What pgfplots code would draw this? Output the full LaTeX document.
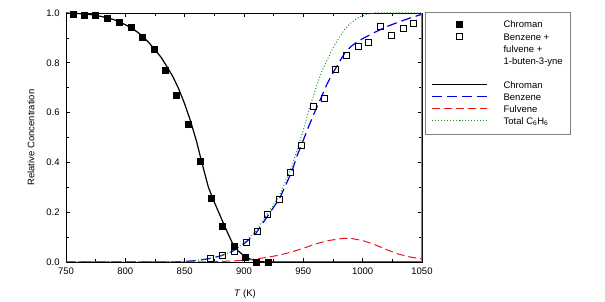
\documentclass[border=0pt]{standalone}
\usepackage{pgfplots}
\pgfplotsset{compat=1.18}
\usepackage{fontspec}
\setmainfont{Liberation Sans}
\definecolor{cblue}{RGB}{0,0,230}
\definecolor{cred}{RGB}{235,20,30}
\definecolor{cgreen}{RGB}{40,150,40}
\begin{document}
\fontsize{9.5}{11.5}\selectfont
\begin{tikzpicture}
\useasboundingbox (-66pt,-40pt) rectangle (539pt,262pt);
\begin{axis}[
  at={(0,0)}, anchor=south west,
  width=356pt, height=249pt, scale only axis,
  xmin=750, xmax=1050, ymin=0, ymax=1,
  xtick={750,800,...,1050}, minor x tick num=1,
  ytick={0,0.2,0.4,0.6,0.8,1.0}, minor y tick num=1,
  major tick length=4pt, minor tick length=3pt,
  tick style={black, line width=0.6pt},
  axis line style={line width=0.8pt},
  /pgf/number format/assume math mode=true,
  yticklabel style={xshift=-3pt, /pgf/number format/.cd, fixed, fixed zerofill, precision=1},
  xticklabel style={yshift=-3pt, /pgf/number format/1000 sep={}},
  xlabel={\textit{T} (K)},
  ylabel={Relative Concentration},
  xlabel style={at={(axis description cs:0.503,-0.1285)}, anchor=center},
  ylabel style={at={(axis description cs:-0.0983,0.5)}, anchor=center},
  legend style={at={(1,1)}, anchor=north west, xshift=3pt, yshift=1pt,
    draw=gray, line width=0.8pt, fill=white, font=\fontsize{9.5}{12}\selectfont,
    cells={anchor=base west, inner ysep=1.5pt, text height=6.6pt, text depth=2.4pt},
    row sep=0pt, column sep=14pt,
    inner xsep=6pt, inner ysep=7pt},
  legend image code/.code={\draw[mark repeat=2,mark phase=2,#1] plot coordinates {(0pt,3.3pt) (27.5pt,3.3pt) (55pt,3.3pt)};},
]
\addplot[only marks, mark=square*, mark size=3pt, black] coordinates {
(756,0.997) (765,0.992) (775,0.991) (785,0.979) (795,0.964) (805,0.942)
(814,0.903) (824,0.854) (834,0.771) (843,0.668) (853,0.553) (863,0.405)
(872,0.256) (882,0.145) (892,0.064) (901,0.021) (910,0.001) (920,0.000)};
\addlegendentry{Chroman}
\addplot[only marks, mark=square, mark size=3pt, black, mark options={line width=0.6pt}] coordinates {
(872,0.015) (882,0.025) (892,0.043) (902,0.081) (911,0.122) (920,0.191)
(930,0.253) (939,0.359) (948,0.470) (958,0.627) (968,0.657) (977,0.775)
(986,0.829) (996,0.865) (1005,0.881) (1015,0.948) (1024,0.912) (1034,0.939) (1043,0.957)};
\addlegendentry{Benzene +}
\addlegendimage{empty legend}
\addlegendentry{fulvene +}
\addlegendimage{empty legend}
\addlegendentry{1-buten-3-yne}
\addlegendimage{empty legend}
\addlegendentry{}
\addplot[black, line width=1.2pt] coordinates {
(750,1.0) (760,0.998) (770,0.994) (780,0.986) (790,0.974) (800,0.953) (805,0.940)
(810,0.924) (815,0.905) (820,0.880) (825,0.852) (830,0.823) (835,0.785) (840,0.745)
(845,0.695) (850,0.635) (855,0.565) (860,0.485) (865,0.390) (870,0.300) (875,0.240)
(880,0.185) (885,0.130) (890,0.078) (895,0.045) (900,0.025) (905,0.012) (910,0.005)
(915,0.001) (920,0) (1050,0)};
\addlegendentry{Chroman}
\addplot[cblue, line width=1.2pt, dash pattern=on 10pt off 5pt] coordinates {
(750,0) (840,0) (850,0.002) (860,0.006) (870,0.013) (880,0.024) (890,0.042) (900,0.073)
(910,0.115) (920,0.185) (930,0.255) (940,0.36) (945,0.43) (950,0.49) (955,0.55)
(960,0.607) (965,0.66) (970,0.715) (975,0.76) (980,0.80) (985,0.84) (990,0.865)
(995,0.883) (1000,0.897) (1010,0.922) (1020,0.945) (1030,0.963) (1040,0.98) (1050,0.995)};
\addlegendentry{Benzene}
\addplot[cred, line width=1pt, dash pattern=on 8pt off 4pt] coordinates {
(750,0) (860,0) (880,0.002) (890,0.004) (900,0.007) (910,0.012) (920,0.019) (930,0.028)
(940,0.04) (950,0.055) (960,0.072) (970,0.085) (980,0.093) (985,0.095) (990,0.095)
(1000,0.086) (1010,0.07) (1020,0.05) (1030,0.032) (1040,0.02) (1050,0.012)};
\addlegendentry{Fulvene}
\addplot[cgreen, line width=1pt, dash pattern=on 1pt off 2pt] coordinates {
(750,0) (840,0) (850,0.002) (860,0.006) (870,0.013) (880,0.024) (890,0.043) (900,0.077)
(910,0.125) (920,0.195) (930,0.268) (940,0.38) (945,0.455) (950,0.53) (955,0.615)
(960,0.69) (965,0.76) (970,0.81) (975,0.86) (980,0.90) (985,0.935) (990,0.96)
(995,0.978) (1000,0.99) (1005,0.996) (1010,1.0) (1050,1.0)};
\addlegendentry{Total C\textsubscript{6}H\textsubscript{6}}
\draw[gray, line width=1.2pt] (rel axis cs:1,0) -- (rel axis cs:1,1);
\end{axis}
\end{tikzpicture}
\end{document}
